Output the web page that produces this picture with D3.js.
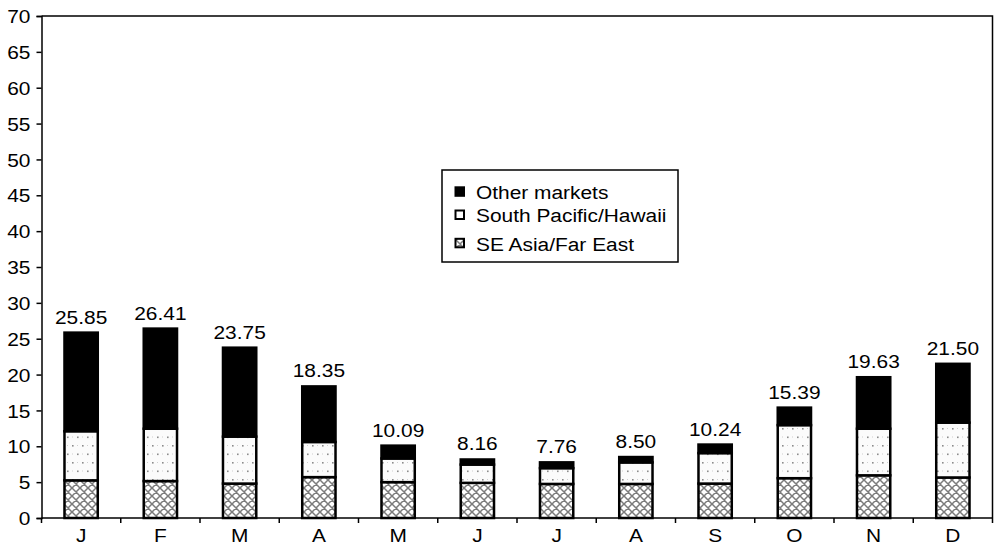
<!DOCTYPE html>
<html>
<head>
<meta charset="utf-8">
<script src="https://cdn.jsdelivr.net/npm/d3@7"></script>
<style>
  html, body { margin: 0; padding: 0; background: #fff; }
  svg { display: block; font-family: "Liberation Sans", Arial, Helvetica, sans-serif; }
</style>
</head>
<body>
<svg id="chart" width="997" height="544"></svg>
<script>
// Months of the year
const months = ["J", "F", "M", "A", "M", "J", "J", "A", "S", "O", "N", "D"];

// Stacked segments per month
const seAsiaFarEast   = [5.25, 5.15, 4.80, 5.70, 5.00, 4.90, 4.75, 4.75, 4.80, 5.55, 5.95, 5.65];
const southPacific    = [6.85, 7.30, 6.55, 4.90, 3.30, 2.55, 2.20, 3.00, 4.25, 7.40, 6.50, 7.65];
const otherMarkets    = [13.75, 13.96, 12.40, 7.75, 1.79, 0.71, 0.81, 0.75, 1.19, 2.44, 7.18, 8.20];

// Y axis ticks
const yTicks = [0, 5, 10, 15, 20, 25, 30, 35, 40, 45, 50, 55, 60, 65, 70];

const seriesNames = ["SE Asia/Far East", "South Pacific/Hawaii", "Other markets"];

const svg = d3.select("#chart");
const margin = { left: 41.5, right: 4.5, top: 16, bottom: 26 };
const W = 997, H = 544;
const x0 = margin.left, x1 = W - margin.right;
const y0 = H - margin.bottom, y1 = margin.top;
const FS = 19;          // font size
const SX = 1.1;         // slightly wide lettering

// Patterns
const defs = svg.append("defs");
const hatch = defs.append("pattern")
  .attr("id", "crosshatch").attr("patternUnits", "userSpaceOnUse")
  .attr("width", 8).attr("height", 8);
hatch.append("rect").attr("width", 8).attr("height", 8).attr("fill", "#fff");
hatch.append("path").attr("d", "M0,0L8,8M8,0L0,8M-1,7L1,9M7,-1L9,1")
  .attr("stroke", "#7c7c7c").attr("stroke-width", 1.5).attr("fill", "none");

const dots = defs.append("pattern")
  .attr("id", "dots").attr("patternUnits", "userSpaceOnUse")
  .attr("width", 10).attr("height", 17);
dots.append("rect").attr("width", 10).attr("height", 17).attr("fill", "#fbfbfb");
dots.append("rect").attr("x", 2).attr("y", 3).attr("width", 1.6).attr("height", 1.6).attr("fill", "#8c8c8c");
dots.append("rect").attr("x", 7).attr("y", 11.5).attr("width", 1.6).attr("height", 1.6).attr("fill", "#8c8c8c");
dots.append("rect").attr("x", 7).attr("y", 3).attr("width", 1).attr("height", 1).attr("fill", "#cfcfcf");
dots.append("rect").attr("x", 2).attr("y", 11.5).attr("width", 1).attr("height", 1).attr("fill", "#cfcfcf");

const fills = ["url(#crosshatch)", "url(#dots)", "#000"];

const x = d3.scaleBand().domain(d3.range(months.length)).range([x0, x1]).paddingInner(0.58).paddingOuter(0.29);
const y = d3.scaleLinear().domain([0, 70]).range([y0, y1]);

const rows = months.map((m, i) => ({ i, s0: seAsiaFarEast[i], s1: southPacific[i], s2: otherMarkets[i] }));
const stack = d3.stack().keys(["s0", "s1", "s2"])(rows);

// Helper: place a text with slightly widened glyphs
function wideText(sel, tx, ty) {
  return sel.attr("x", 0).attr("y", 0)
    .attr("transform", (d, i) => `translate(${tx(d, i)},${ty(d, i)}) scale(${SX},1)`)
    .attr("font-size", FS);
}

// Plot frame (top and right edges)
svg.append("path")
  .attr("d", `M${x0},${y1}H${x1}V${y0}`)
  .attr("fill", "none").attr("stroke", "#000").attr("stroke-width", 1.5);

// Bars
stack.forEach((layer, k) => {
  svg.append("g").selectAll("rect").data(layer).join("rect")
    .attr("x", d => x(d.data.i))
    .attr("width", x.bandwidth())
    .attr("y", d => y(d[1]))
    .attr("height", d => y(d[0]) - y(d[1]))
    .attr("fill", fills[k])
    .attr("stroke", "#000").attr("stroke-width", 2.5);
});

// Totals above bars
svg.append("g").selectAll("text").data(rows).join("text")
  .call(wideText, d => x(d.i) + x.bandwidth() / 2, d => y(d.s0 + d.s1 + d.s2) - 9)
  .attr("text-anchor", "middle")
  .text(d => d3.format(".2f")(d.s0 + d.s1 + d.s2));

// Y axis
const yAxis = svg.append("g").attr("transform", `translate(${x0},0)`)
  .call(d3.axisLeft(y).tickValues(yTicks).tickSize(5).tickPadding(6));
yAxis.attr("font-family", null).attr("font-size", null);
yAxis.select(".domain").attr("stroke-width", 1.5);
yAxis.selectAll(".tick line").attr("stroke-width", 1.5);
yAxis.selectAll(".tick text")
  .attr("fill", "#000")
  .attr("x", 0).attr("dy", null).attr("y", 0)
  .attr("dominant-baseline", "central")
  .attr("transform", `translate(-11,0) scale(${SX},1)`)
  .attr("font-size", FS);

// X axis: ticks on category boundaries, labels centred
const xa = svg.append("g");
xa.append("line").attr("x1", x0).attr("x2", x1).attr("y1", y0).attr("y2", y0)
  .attr("stroke", "#000").attr("stroke-width", 1.5);
const step = x.step();
xa.selectAll("line.tk").data(d3.range(months.length + 1)).join("line")
  .attr("class", "tk")
  .attr("x1", i => x0 + i * step).attr("x2", i => x0 + i * step)
  .attr("y1", y0).attr("y2", y0 + 5)
  .attr("stroke", "#000").attr("stroke-width", 1.5);
xa.selectAll("text").data(months).join("text")
  .call(wideText, (m, i) => x(i) + x.bandwidth() / 2, () => y0 + 23.5)
  .attr("text-anchor", "middle")
  .text(m => m);

// Legend
const lg = svg.append("g");
lg.append("rect").attr("x", 442).attr("y", 170).attr("width", 236).attr("height", 92)
  .attr("fill", "#fff").attr("stroke", "#000").attr("stroke-width", 1.5);
const legendItems = [
  { name: seriesNames[2], fill: fills[2], cy: 191.5, base: 198.5 },
  { name: seriesNames[1], fill: "#fff", cy: 214.7, base: 221.7 },
  { name: seriesNames[0], fill: fills[0], cy: 243, base: 251 }
];
legendItems.forEach(it => {
  lg.append("rect").attr("x", 455.5).attr("y", it.cy - 4.2).attr("width", 8.5).attr("height", 8.5)
    .attr("fill", it.fill).attr("stroke", "#000").attr("stroke-width", 2);
  lg.append("text").datum(it)
    .call(wideText, () => 476, d => d.base)
    .text(d => d.name);
});
</script>
</body>
</html>
